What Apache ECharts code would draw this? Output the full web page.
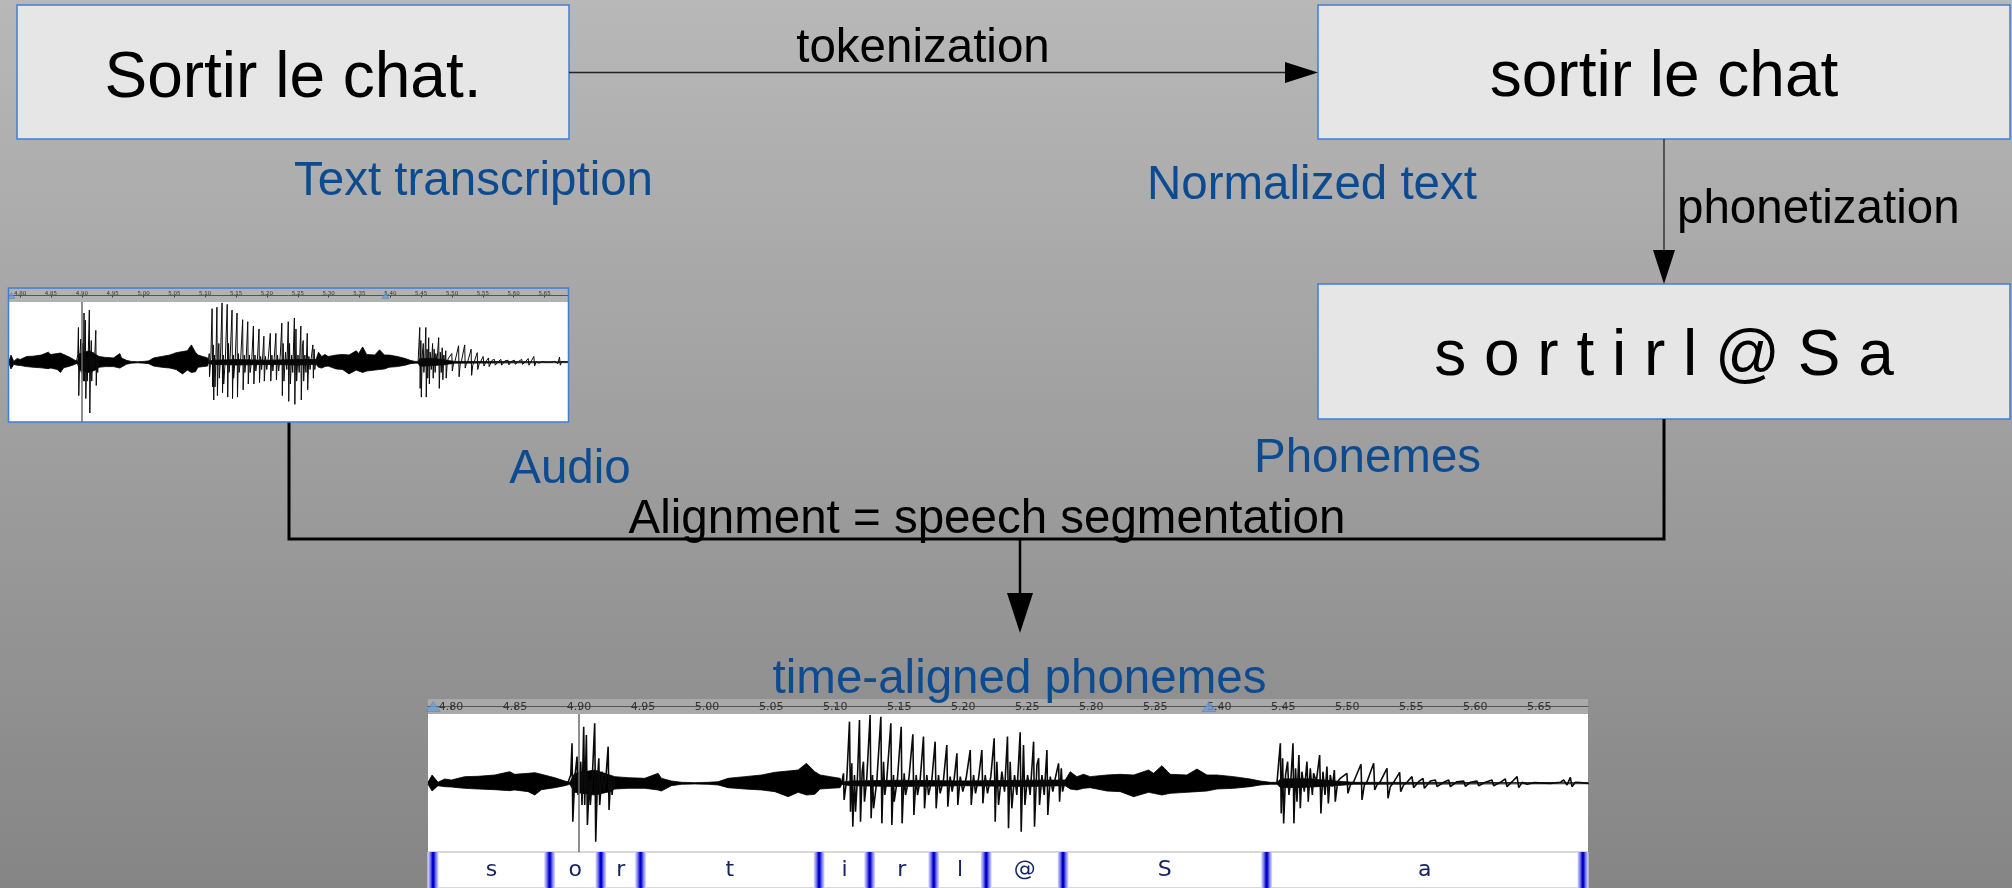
<!DOCTYPE html>
<html><head><meta charset="utf-8">
<script src="https://cdn.jsdelivr.net/npm/echarts@6/dist/echarts.min.js"></script>
<style>html,body{margin:0;padding:0;background:linear-gradient(#b8b8b8,#858585);} #c{width:2012px;height:888px;}</style>
</head><body><div id="c"></div><script>
// ---------- data ----------
const tMin = 4.782, tMax = 5.688;               // visible time span (s)
const tickValues = [4.80,4.85,4.90,4.95,5.00,5.05,5.10,5.15,5.20,5.25,5.30,5.35,5.40,5.45,5.50,5.55,5.60,5.65];
const phonemes = ['s','o','r','t','i','r','l','@','S','a'];
const phonBounds = [4.786,4.877,4.917,4.948,5.0875,5.127,5.177,5.218,5.278,5.437,5.684];
const cursorTime = 4.903;
const markerTimes = [4.786, 5.392];

// noise envelope (frication / background)
const envTime  = [4.782,4.7852,4.7898,4.7951,4.8003,4.8055,4.8107,4.8211,4.8341,4.8458,4.8497,4.8602,4.8654,4.8706,4.8810,4.8888,4.8927,4.8966,4.9122,4.9240,4.9279,4.9383,4.9513,4.9617,4.9643,4.9721,4.9800,4.9904,5.0008,5.0086,5.0164,5.0294,5.0425,5.0529,5.0633,5.0711,5.0776,5.0841,5.0883,5.0961,5.1039,5.1052,5.1120,5.1500,5.2000,5.2500,5.2797,5.2836,5.2888,5.2940,5.2992,5.3044,5.3122,5.3227,5.3331,5.3448,5.3487,5.3552,5.3617,5.3747,5.3826,5.3904,5.3982,5.4112,5.4242,5.4320,5.4398,5.4451,5.4480,5.4700,5.4900,5.5050,5.6880];
const envUpper = [0.010,0.116,0.010,0.058,0.043,0.068,0.092,0.097,0.116,0.164,0.126,0.140,0.150,0.126,0.077,0.029,0.010,0.140,0.188,0.116,0.092,0.077,0.068,0.140,0.068,0.029,0.010,0.005,0.010,0.019,0.068,0.092,0.116,0.155,0.174,0.188,0.285,0.164,0.116,0.092,0.068,0.010,0.03,0.04,0.03,0.04,0.043,0.164,0.092,0.126,0.092,0.102,0.116,0.126,0.116,0.188,0.140,0.251,0.126,0.116,0.203,0.116,0.116,0.092,0.058,0.029,0.010,0.010,0.06,0.06,0.03,0.010,0.005];
const envLower = [-0.019,-0.116,-0.039,-0.053,-0.058,-0.068,-0.077,-0.087,-0.097,-0.111,-0.101,-0.125,-0.174,-0.097,-0.068,-0.039,-0.019,-0.135,-0.174,-0.125,-0.087,-0.077,-0.077,-0.101,-0.116,-0.039,-0.019,-0.014,-0.019,-0.029,-0.068,-0.087,-0.101,-0.125,-0.198,-0.135,-0.174,-0.164,-0.087,-0.077,-0.068,-0.019,-0.04,-0.05,-0.04,-0.05,-0.039,-0.087,-0.101,-0.077,-0.068,-0.087,-0.116,-0.125,-0.198,-0.135,-0.150,-0.174,-0.150,-0.135,-0.125,-0.116,-0.087,-0.077,-0.053,-0.029,-0.019,-0.019,-0.07,-0.06,-0.04,-0.019,-0.010];

// voiced / burst extrema [time, amplitude]
const burstOR = [[4.8914,0.010],[4.8935,0.116],[4.8945,0.575],[4.8951,-0.560],[4.8966,0.068],[4.8984,0.382],[4.8992,-0.174],[4.9013,0.309],[4.9023,-0.319],[4.9036,0.816],[4.9044,-0.319],[4.9057,0.696],[4.9065,-0.609],[4.9081,0.068],[4.9088,-0.319],[4.9104,0.116],[4.9122,0.865],[4.9130,-0.850],[4.9143,0.019],[4.9154,0.358],[4.9161,-0.319],[4.9180,0.164],[4.9195,-0.125],[4.9211,0.116],[4.9227,0.527],[4.9234,-0.391],[4.9247,0.092],[4.9258,-0.174],[4.9268,0.068],[4.9279,-0.053]];
const voicedIRL = [[5.1052,0.010],[5.1065,0.140],[5.1070,-0.246],[5.1091,0.068],[5.1112,0.889],[5.1120,-0.415],[5.1130,0.285],[5.1138,-0.633],[5.1151,0.116],[5.1159,-0.415],[5.1174,0.068],[5.1190,0.913],[5.1198,-0.560],[5.1211,0.164],[5.1221,0.309],[5.1229,-0.270],[5.1247,0.068],[5.1273,0.985],[5.1281,-0.512],[5.1292,0.116],[5.1300,-0.367],[5.1326,0.043],[5.1357,0.961],[5.1365,-0.585],[5.1378,0.309],[5.1388,-0.174],[5.1404,0.068],[5.1435,0.865],[5.1443,-0.609],[5.1456,0.116],[5.1461,-0.270],[5.1487,0.068],[5.1516,0.816],[5.1523,-0.585],[5.1539,0.140],[5.1550,-0.174],[5.1576,0.068],[5.1607,0.705],[5.1615,-0.464],[5.1633,0.116],[5.1643,-0.174],[5.1664,0.043],[5.1690,0.672],[5.1698,-0.367],[5.1716,0.116],[5.1729,-0.174],[5.1755,0.043],[5.1781,0.599],[5.1789,-0.367],[5.1807,0.116],[5.1820,-0.150],[5.1846,0.043],[5.1872,0.551],[5.1880,-0.343],[5.1898,0.092],[5.1914,-0.125],[5.1930,0.068],[5.1951,0.430],[5.1958,-0.319],[5.1977,0.092],[5.1997,-0.125],[5.2023,0.068],[5.2055,0.478],[5.2063,-0.319],[5.2081,0.116],[5.2096,-0.150],[5.2120,0.068],[5.2146,0.478],[5.2154,-0.295],[5.2172,0.116],[5.2190,-0.150],[5.2216,0.092],[5.2242,0.647],[5.2250,-0.560],[5.2263,0.309],[5.2276,-0.319],[5.2302,0.164],[5.2323,-0.125],[5.2346,0.672],[5.2354,-0.657],[5.2367,0.309],[5.2380,-0.367],[5.2401,0.116],[5.2419,-0.174],[5.2445,0.734],[5.2453,-0.706],[5.2471,0.551],[5.2482,-0.319],[5.2503,0.116],[5.2523,-0.174],[5.2550,0.599],[5.2557,-0.633],[5.2576,0.261],[5.2589,0.358],[5.2596,-0.319],[5.2615,0.116],[5.2633,-0.174],[5.2654,0.478],[5.2661,-0.464],[5.2680,0.092],[5.2700,-0.125],[5.2719,0.068],[5.2745,0.285],[5.2753,-0.270],[5.2766,0.213],[5.2776,-0.125],[5.2797,0.043]];
const voicedA = [[5.4451,0.010],[5.4477,0.575],[5.4484,-0.440],[5.4495,0.358],[5.4503,-0.585],[5.4518,0.116],[5.4534,0.309],[5.4544,-0.174],[5.4560,0.068],[5.4576,0.575],[5.4583,-0.585],[5.4596,0.213],[5.4607,-0.270],[5.4622,0.406],[5.4633,-0.367],[5.4646,0.164],[5.4664,-0.125],[5.4685,0.309],[5.4695,-0.270],[5.4711,0.213],[5.4727,-0.174],[5.4737,0.140],[5.4758,0.019],[5.4784,0.406],[5.4794,-0.440],[5.4810,0.164],[5.4826,-0.174],[5.4841,0.237],[5.4852,-0.295],[5.4867,0.116],[5.4883,-0.053],[5.4899,0.188],[5.4906,-0.270],[5.4925,0.019],[5.4945,0.068],[5.4997,0.140],[5.5005,-0.150],[5.5024,-0.029],[5.5050,0.019],[5.5107,0.271],[5.5115,-0.246],[5.5133,-0.029],[5.5154,0.019],[5.5206,0.285],[5.5214,-0.101],[5.5232,-0.029],[5.5258,0.019],[5.5310,0.213],[5.5318,-0.222],[5.5336,-0.053],[5.5362,0.010],[5.5409,0.155],[5.5417,-0.125],[5.5440,-0.029],[5.5466,0.010],[5.5505,0.092],[5.5518,-0.068],[5.5557,0.019],[5.5591,0.068],[5.5602,-0.077],[5.5649,0.029],[5.5688,0.043],[5.5701,-0.053],[5.5753,0.010],[5.5792,0.043],[5.5805,-0.053],[5.5857,0.019],[5.5909,0.029],[5.5922,-0.048],[5.5961,0.010],[5.6013,0.029],[5.6026,-0.039],[5.6078,0.010],[5.6130,0.043],[5.6143,-0.039],[5.6195,0.010],[5.6234,0.058],[5.6247,-0.053],[5.6287,0.019],[5.6326,0.092],[5.6339,-0.068],[5.6365,0.010],[5.6404,-0.019],[5.6456,0.005],[5.6586,-0.005],[5.6664,0.010],[5.6690,0.043],[5.6716,-0.029],[5.6742,0.082],[5.6755,-0.053],[5.6781,0.010],[5.6820,0.005],[5.6886,-0.005]];

// ---------- chart ----------
const chart = echarts.init(document.getElementById('c'), null, {renderer:'canvas'});
const SANS = '"Liberation Sans", Arial, sans-serif';
const BLUE = '#0d4b91';
const envData = arr => envTime.map((t, i) => [t, arr[i]]);

function waveSeries(gi, lw) {
  const common = {type:'line', xAxisIndex:gi, yAxisIndex:gi, symbol:'none', silent:true, animation:false};
  const s = [
    Object.assign({}, common, {data: envData(envUpper), lineStyle:{width:0.8,color:'#000'}, areaStyle:{color:'#000',opacity:1},
      markLine:{silent:true, symbol:['none','none'], label:{show:false}, lineStyle:{color:'#6a6a6a', width:1.5, type:'solid'}, data:[{xAxis: cursorTime}], animation:false}}),
    Object.assign({}, common, {data: envData(envLower), lineStyle:{width:0.8,color:'#000'}, areaStyle:{color:'#000',opacity:1}})
  ];
  [burstOR, voicedIRL, voicedA].forEach(d => s.push(Object.assign({}, common, {data:d, lineStyle:{width:lw, color:'#0a0a0a'}})));
  return s;
}
function markerSeries(gi, size) {
  return {type:'scatter', xAxisIndex:gi, yAxisIndex:gi, data: markerTimes.map(t => [t, 0]), symbol:'triangle', symbolSize:size,
    itemStyle:{color:'#6d9cd6', borderColor:'#4a78b0', borderWidth:0.5}, silent:true, animation:false};
}
function rulerAxis(gi, fs, tl) {
  return {type:'value', gridIndex:gi, min:tMin, max:tMax, position:'top',
    axisLine:{show:true, lineStyle:{color:'#555', width:1}},
    axisTick:{show:true, inside:true, length:tl, customValues:tickValues, lineStyle:{color:'#444', width:1}},
    axisLabel:{inside:true, customValues:tickValues, formatter: v => v.toFixed(2), fontSize:fs, color:'#333', fontFamily:'"DejaVu Sans", sans-serif', margin:fs*0.2},
    splitLine:{show:false}};
}
const hiddenX = gi => ({type:'value', gridIndex:gi, min:tMin, max:tMax, show:false});
const yAx = (gi, mn, mx) => ({type:'value', gridIndex:gi, min:mn, max:mx, show:false});

const barGrad = new echarts.graphic.LinearGradient(0,0,1,0,[
  {offset:0,color:'#e4e4ff'},{offset:0.25,color:'#7878ee'},{offset:0.45,color:'#0000c8'},
  {offset:0.55,color:'#0000c8'},{offset:0.75,color:'#7878ee'},{offset:1,color:'#e4e4ff'}]);

const option = {
  animation:false,
  backgroundColor: new echarts.graphic.LinearGradient(0,0,0,1,[{offset:0,color:'#b8b8b8'},{offset:1,color:'#858585'}]),
  grid:[
    {left:9, top:289, width:559, height:13, show:true, backgroundColor:'#b2b2b2', borderWidth:0},
    {left:9, top:302, width:559, height:120, show:true, backgroundColor:'#ffffff', borderWidth:0},
    {left:428, top:699, width:1160, height:15, show:true, backgroundColor:'#a9a9a9', borderWidth:0},
    {left:428, top:714, width:1160, height:138, show:true, backgroundColor:'#ffffff', borderWidth:0},
    {left:428, top:852, width:1160, height:36, show:true, backgroundColor:'#ffffff', borderColor:'#b0b0b0', borderWidth:1}
  ],
  xAxis:[rulerAxis(0, 5.5, 2), hiddenX(1), rulerAxis(2, 11, 3), hiddenX(3), hiddenX(4)],
  yAxis:[yAx(0,-1,1), yAx(1,-1,1), yAx(2,-1,1), yAx(3,-1,1), yAx(4,0,1)],
  series:[
    ...waveSeries(1, 1.0),
    ...waveSeries(3, 1.6),
    markerSeries(0, [7,6]),
    markerSeries(2, [14,10]),
    {type:'custom', xAxisIndex:4, yAxisIndex:4, silent:true,
     data: phonBounds.map(t => [t]), encode:{x:0},
     renderItem:(params, api) => {
       const top = api.coord([api.value(0), 1]), bot = api.coord([api.value(0), 0]);
       const w = 11;
       return {type:'rect', shape:{x:top[0]-w/2, y:top[1], width:w, height:bot[1]-top[1]}, style:{fill:barGrad}};
     }},
    {type:'custom', xAxisIndex:4, yAxisIndex:4, silent:true,
     data: phonemes.map((p, i) => [phonBounds[i], phonBounds[i+1]]), encode:{x:[0,1]},
     renderItem:(params, api) => {
       const s = api.coord([api.value(0), 0.5]), e = api.coord([api.value(1), 0.5]);
       return {type:'text', style:{text: phonemes[params.dataIndex], x:(s[0]+e[0])/2, y:s[1], align:'center', verticalAlign:'middle',
         fill:'#162462', font:'22px "DejaVu Sans", sans-serif'}};
     }}
  ],
  graphic:{elements:[
    // boxes
    {type:'rect', z:1, shape:{x:17, y:5, width:552, height:134}, style:{fill:'#e6e6e6', stroke:'#3f7fcf', lineWidth:1.5}},
    {type:'rect', z:1, shape:{x:1318, y:5, width:692, height:134}, style:{fill:'#e6e6e6', stroke:'#3f7fcf', lineWidth:1.5}},
    {type:'rect', z:1, shape:{x:1318, y:284, width:692, height:135}, style:{fill:'#e6e6e6', stroke:'#3f7fcf', lineWidth:1.5}},
    {type:'rect', z:50, shape:{x:8.5, y:288, width:560, height:134}, style:{fill:null, stroke:'#3f7fcf', lineWidth:1.5}},
    // box texts
    {type:'text', z:60, style:{text:'Sortir le chat.', x:293, y:79, font:'64px '+SANS, fill:'#000', align:'center', verticalAlign:'middle'}},
    {type:'text', z:60, style:{text:'sortir le chat', x:1664, y:78, font:'64px '+SANS, fill:'#000', align:'center', verticalAlign:'middle'}},
    {type:'text', z:60, style:{text:'s o r t i r l @ S a', x:1664, y:357.5, font:'64px '+SANS, fill:'#000', align:'center', verticalAlign:'middle'}},
    // labels
    {type:'text', z:60, style:{text:'Text transcription', x:473.5, y:182, font:'47.5px '+SANS, fill:BLUE, align:'center', verticalAlign:'middle'}},
    {type:'text', z:60, style:{text:'Normalized text', x:1312, y:186, font:'47.5px '+SANS, fill:BLUE, align:'center', verticalAlign:'middle'}},
    {type:'text', z:60, style:{text:'Audio', x:570, y:470, font:'47.5px '+SANS, fill:BLUE, align:'center', verticalAlign:'middle'}},
    {type:'text', z:60, style:{text:'Phonemes', x:1367.5, y:459, font:'47.5px '+SANS, fill:BLUE, align:'center', verticalAlign:'middle'}},
    {type:'text', z:60, style:{text:'time-aligned phonemes', x:1019.5, y:680, font:'47.5px '+SANS, fill:BLUE, align:'center', verticalAlign:'middle'}},
    {type:'text', z:60, style:{text:'tokenization', x:923, y:48.5, font:'47.5px '+SANS, fill:'#000', align:'center', verticalAlign:'middle'}},
    {type:'text', z:60, style:{text:'phonetization', x:1677, y:210, font:'47.5px '+SANS, fill:'#000', align:'left', verticalAlign:'middle'}},
    {type:'text', z:60, style:{text:'Alignment = speech segmentation', x:987, y:520, font:'47.5px '+SANS, fill:'#000', align:'center', verticalAlign:'middle'}},
    // arrows
    {type:'line', z:5, shape:{x1:569, y1:72.5, x2:1288, y2:72.5}, style:{stroke:'#222', lineWidth:1.3}},
    {type:'polygon', z:5, shape:{points:[[1285,62],[1318,72.5],[1285,83]]}, style:{fill:'#000'}},
    {type:'line', z:5, shape:{x1:1664, y1:139, x2:1664, y2:252}, style:{stroke:'#222', lineWidth:1.3}},
    {type:'polygon', z:5, shape:{points:[[1653,250],[1675,250],[1664,284]]}, style:{fill:'#000'}},
    {type:'polyline', z:5, shape:{points:[[289,422],[289,539],[1664,539],[1664,419]]}, style:{stroke:'#000', lineWidth:3, fill:null}},
    {type:'line', z:5, shape:{x1:1020, y1:539, x2:1020, y2:596}, style:{stroke:'#000', lineWidth:2.5}},
    {type:'polygon', z:5, shape:{points:[[1007,593],[1033,593],[1020,633]]}, style:{fill:'#000'}}
  ]}
};
chart.setOption(option);
</script></body></html>
